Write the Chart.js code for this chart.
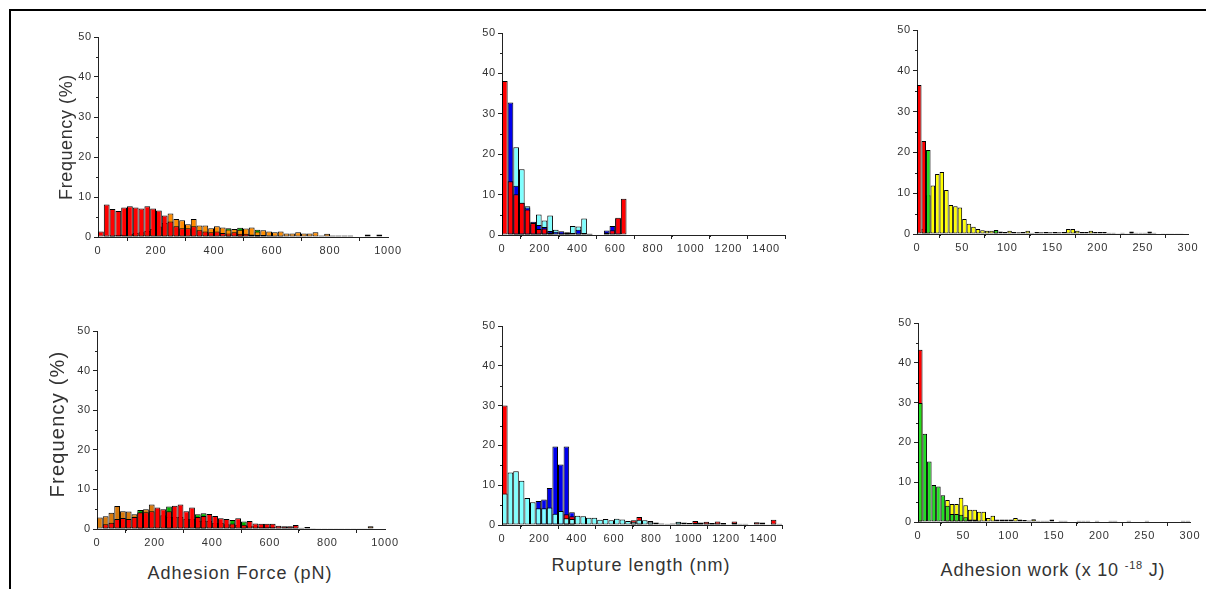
<!DOCTYPE html>
<html><head><meta charset="utf-8">
<script src="https://cdn.jsdelivr.net/npm/chart.js@4.4.1/dist/chart.umd.min.js"></script>
<style>
html,body{margin:0;padding:0;background:#fff;width:1206px;height:589px;overflow:hidden;position:relative;font-family:"Liberation Sans",Arial,sans-serif;}
.frame{position:absolute;left:9px;top:9px;width:1300px;height:700px;border-top:2px solid #000;border-left:2px solid #000;}
canvas{position:absolute;}
.t{position:absolute;color:#333;white-space:nowrap;line-height:1;transform:translate(-50%,-50%);}
.t sup{font-size:11px;vertical-align:0;position:relative;top:-7px;}
</style></head><body>
<div class="frame"></div>
<canvas id="c1"></canvas><canvas id="c2"></canvas><canvas id="c3"></canvas>
<canvas id="c4"></canvas><canvas id="c5"></canvas><canvas id="c6"></canvas>
<div class="t" style="left:66px;top:137px;font-size:18px;letter-spacing:0.6px;transform:translate(-50%,-50%) rotate(-90deg);">Frequency (%)</div>
<div class="t" style="left:57px;top:424px;font-size:20px;letter-spacing:1.2px;transform:translate(-50%,-50%) rotate(-90deg);">Frequency (%)</div>
<div class="t" style="left:240px;top:573px;font-size:18px;letter-spacing:1px;">Adhesion Force (pN)</div>
<div class="t" style="left:641px;top:565px;font-size:18px;letter-spacing:1px;">Rupture length (nm)</div>
<div class="t" style="left:1053px;top:570px;font-size:18px;letter-spacing:0.8px;">Adhesion work (x 10 <sup>-18</sup> J)</div>
<script>
// ---------- tick settings ----------
const freqTicks = [0, 10, 20, 30, 40, 50];
const forceTicks = [0, 200, 400, 600, 800, 1000];
const ruptureTicks = [0, 200, 400, 600, 800, 1000, 1200, 1400];
const workTicks = [0, 50, 100, 150, 200, 250, 300];

// ---------- bin widths ----------
const forceBin = 20;    // pN
const ruptureBin = 30;  // nm
const workBin = 5;      // x 10^-18 J

// ---------- Panel 1 : adhesion force (top) ----------
const force1Red = [1.4,8.1,7.0,6.5,7.4,7.7,7.4,7.1,7.7,7.1, 6.6,5.4,3.9,2.7,2.2,2.2,2.7,1.7,1.4,1.2, 1.4,1.0,0.9,1.2,0.8,0.8,0.6,0.5,0.5,0.4, 0.3,0.3,0.2,0.2,0.2,0,0,0,0,0, 0,0,0,0,0,0,0,0,0,0];
const force1Orange = [0,0.3,0.4,0.5,0.6,0.8,1.0,1.2,1.5,2.0, 2.6,3.5,5.9,4.5,4.2,3.2,4.5,2.9,2.9,2.2, 2.7,2.4,1.9,2.0,1.8,2.1,2.4,1.4,1.7,1.4, 1.2,1.4,0.9,0.9,1.2,0.9,0.9,1.2,0.4,0.8, 0.4,0.4,0.4,0.4,0,0,0,0,0,0];
const force1Green = [0,0,0.4,0,0,0,0,0,0,0, 0,0,0,0,0,0,0,0,0,0, 0,0,2.2,0,2.3,0,0,1.8,0,0, 0,0,0,0,0,0,0,0,0,0, 0,0,0,0,0,0,0.6,0,0.6,0];

// ---------- Panel 2 : rupture length (top) ----------
const rupt1Red = [38.1,13.3,10.1,8.0,6.3,3.0,1.5,1.6,0.6,0, 0.3,0.3,0,0.3,0,0.3,0,0,0.6,1.2, 4.3,9.0,0,0,0,0,0,0,0,0, 0,0,0,0,0,0,0,0,0,0, 0,0,0,0,0,0,0,0,0,0];
const rupt1Blue = [0,32.8,12.2,8.0,6.8,3.3,2.5,2.0,1.0,0.8, 0.9,0.5,0.5,1.3,0.5,0.3,0,0,1.1,2.2, 4.0,0,0,0,0,0,0,0,0,0, 0,0,0,0,0,0,0,0,0,0, 0,0,0,0,0,0,0,0,0,0];
const rupt1Cyan = [0,0,21.7,16.3,7.1,2.5,5.1,3.6,4.8,1.3, 0.6,0.7,2.2,2.1,4.1,0.2,0,0,0,0, 0,0,0,0,0,0,0,0,0,0, 0,0,0,0,0,0,0,0,0,0, 0,0,0,0,0,0,0,0,0,0];

// ---------- Panel 3 : adhesion work (top) ----------
const work1Red = [36.5,22.8,0,0,0,0,0,0,0,0, 0,0,0,0,0,0,0,0,0,0, 0,0,0,0,0,0,0,0,0,0, 0,0,0,0,0,0,0,0,0,0, 0,0,0,0,0,0,0,0,0,0, 0,0,0,0,0,0,0,0,0,0];
const work1Green = [0,0,20.6,0,0,0,0,0,0,0, 0,0,0,0,0,0,0,1.0,0,0, 0,0,0,0,0,0,0,0,0,0, 0,0,0,0,0,0,0,0,0,0, 0,0,0,0,0,0,0,0.6,0,0, 0,0.6,0,0,0,0,0,0,0,0];
const work1Yellow = [0,1.3,9.5,11.9,14.7,15.2,10.8,7.1,6.8,6.5, 3.7,2.5,1.8,1.2,0.9,0.8,0.8,0.9,0.6,0.5, 0.8,0.5,0.4,0.5,0.8,0.3,0.5,0.4,0.5,0.4, 0.5,0.4,0.5,1.2,1.2,0.8,0.5,0.5,0.8,0.5, 0.5,0.5,0.3,0.3,0.2,0.3,0.2,0.3,0.3,0.3, 0.3,0.3,0.3,0,0.2,0.2,0.2,0.2,0.2,0];

// ---------- Panel 4 : adhesion force (bottom) ----------
const force2Red = [0,1.2,1.6,2.5,2.8,2.5,3.0,4.2,4.2,4.5, 5.4,5.0,4.5,5.9,6.2,4.5,5.4,3.0,3.3,3.8, 3.3,2.7,2.5,1.4,2.7,1.1,2.0,1.4,1.3,1.3, 1.3,0.8,0.7,0.7,1.0,0.3,0.5,0.2,0.2,0.2, 0.2,0.2,0.2,0.2,0.2,0.2,0.2,0,0,0];
const force2Orange = [2.9,3.2,4.1,5.8,4.5,4.4,3.7,4.0,5.0,6.2, 5.0,3.5,3.0,3.0,3.0,2.5,2.5,2.0,2.0,2.0, 1.5,1.5,1.2,1.0,1.0,0.8,0.8,0.8,0.6,0.6, 0.5,0.4,0.4,0.4,0.4,0.2,0.2,0.2,0,0, 0,0,0,0,0,0,0,0.7,0,0];
const force2Green = [0,0,0,0,0,0,0,4.8,0,0, 0,0,5.7,0,0,0,0,3.7,4.0,0, 0,0,0,2.3,0,1.9,0,0,0,0, 0,0,0,0,0,0,0,0,0,0, 0,0,0,0,0,0,0,0,0,0];

// ---------- Panel 5 : rupture length (bottom) ----------
const rupt2Cyan = [7.9,13.2,13.5,11.1,6.8,5.7,4.2,4.2,4.4,2.8, 3.5,1.7,1.5,2.3,2.2,1.8,1.8,1.3,1.5,1.2, 1.6,1.4,1.0,0.8,1.3,1.2,0.9,0.6,0.4,0.3, 0.4,0.8,0.6,0.5,0.5,0.3,0.4,0.3,0.4,0.3, 0.2,0.5,0.3,0.3,0.1,0.2,0.2,0.2,0.3,0.3];
const rupt2Red = [30.0,0,0,0,0,0,0,0,0,0, 0,2.7,2.2,0,0,0,0,0,0,0, 0,0,0,1.2,2.0,0,1.0,0,0,0, 0,0.7,0,0,1.0,0.6,0.8,0.5,0.9,0.5, 0,0.9,0,0,0,0.7,0.6,0,1.3,0];
const rupt2Blue = [0,0,0,0,0,0,6.0,6.4,9.3,19.7, 15.2,19.7,3.2,0,0,0,0,0,0,0, 0,0,0,0,0,0,0,0,0,0, 0,0,0,0,0,0,0,0,0,0, 0,0,0,0,0,0,0,0,0,0];

// ---------- Panel 6 : adhesion work (bottom) ----------
const work2Green = [29.9,22.2,15.2,9.3,8.9,6.7,4.1,2.0,2.0,1.8, 1.2,0.6,0.6,0.3,0,0,0,0,0,0, 0,0,0,0,0,0,0,0,0,0, 0,0,0,0,0,0,0,0,0,0, 0,0,0,0,0,0,0,0,0,0, 0,0,0,0,0,0,0,0,0,0];
const work2Yellow = [0,0,0,0,0,0,5.5,4.5,4.5,6.1, 4.2,3.1,3.1,2.6,2.6,1.0,1.6,0.6,0.6,0.6, 0.6,1.0,0.6,0,0.4,0.7,0.3,0.3,0.3,0, 0,0.3,0.3,0,0,0.3,0.3,0.3,0,0.3, 0,0,0.3,0.3,0,0,0.3,0,0,0, 0.3,0,0,0,0,0,0,0,0.3,0.3];
const work2Red = [43.3,0,0,0,0,0,0,0,0,0, 0,0,0,0,0,0,0,0,0,0, 0,0,0,0.5,0,0,0,0,0,0.6, 0,0,0,0,0,0,0,0,0,0, 0,0,0,0,0,0,0,0,0,0, 0,0,0,0,0,0,0,0,0,0];

// ---------- colours ----------
const RED = '#ff0000', ORANGE1 = '#ff8c00', ORANGE2 = '#d97a0c', GREEN1 = '#00b400', GREEN2 = '#22dd22',
      BLUE = '#0000ee', CYAN = '#80ffff', YELLOW = '#ffff00';

const minorTicks = {
  id: 'minorTicks',
  afterDraw(chart, args, opts) {
    const ctx = chart.ctx, xs = chart.scales.x, ys = chart.scales.y;
    ctx.save();
    ctx.strokeStyle = '#222'; ctx.lineWidth = 1;
    ctx.beginPath();
    for (let v = opts.x; v <= xs.max + 1e-9; v += opts.x * 2) {
      const px = Math.round(xs.getPixelForValue(v)) + 0.5;
      ctx.moveTo(px, xs.top); ctx.lineTo(px, xs.top + 2);
    }
    for (let v = opts.y; v <= ys.max + 1e-9; v += opts.y * 2) {
      const py = Math.round(ys.getPixelForValue(v)) + 0.5;
      ctx.moveTo(ys.right, py); ctx.lineTo(ys.right - 2, py);
    }
    ctx.stroke();
    ctx.restore();
  }
};
const spacing = {
  id: 'spacing',
  beforeDraw(chart) { chart.ctx.letterSpacing = '0.8px'; }
};

function toPoints(values, bin) {
  return values.map((v, i) => ({ x: (i + 0.5) * bin, y: v ? v : null }));
}

function makePanel(id, box, bin, xMax, xTicks, xMinor, series) {
  const cv = document.getElementById(id);
  const W = box.R - box.L + 40 + 16, H = box.B - box.T + 10 + 24;
  cv.width = W; cv.height = H;
  cv.style.left = (box.L - 40) + 'px'; cv.style.top = (box.T - 10) + 'px';
  cv.style.width = W + 'px'; cv.style.height = H + 'px';
  const font = { family: '"Liberation Sans", Arial, sans-serif', size: 11 };
  new Chart(cv, {
    type: 'bar',
    data: {
      datasets: series.map(s => ({
        label: s.label,
        data: toPoints(s.values, bin),
        backgroundColor: s.color,
        borderColor: '#000',
        borderWidth: 1,
        borderSkipped: false,
        inflateAmount: 0,
        grouped: false,
        barPercentage: 1,
        categoryPercentage: 1
      }))
    },
    options: {
      responsive: false, devicePixelRatio: 1, animation: false,
      layout: { padding: { left: 0, top: 10, right: 16, bottom: 0 } },
      plugins: { legend: { display: false }, tooltip: { enabled: false }, minorTicks: { x: xMinor, y: 5 } },
      scales: {
        x: {
          type: 'linear', min: 0, max: xMax, offset: false,
          grid: { drawOnChartArea: false, drawTicks: true, tickLength: 4, color: '#222' },
          border: { display: true, color: '#222', width: 1 },
          afterBuildTicks: s => { s.ticks = xTicks.map(v => ({ value: v })); },
          ticks: { color: '#333', font, padding: 3, maxRotation: 0, autoSkip: false, callback: v => String(v) },
          afterFit: s => { s.height = 24; }
        },
        y: {
          type: 'linear', min: 0, max: 50,
          grid: { drawOnChartArea: false, drawTicks: true, tickLength: 4, color: '#222' },
          border: { display: true, color: '#222', width: 1 },
          afterBuildTicks: s => { s.ticks = freqTicks.map(v => ({ value: v })); },
          ticks: { color: '#333', font, padding: 2, callback: v => String(v) },
          afterFit: s => { s.width = 40; }
        }
      }
    },
    plugins: [minorTicks, spacing]
  });
}

makePanel('c1', { L: 98, R: 388, T: 37, B: 237 }, forceBin, 1000, forceTicks, 100, [
  { label: 'red', values: force1Red, color: RED },
  { label: 'orange', values: force1Orange, color: ORANGE1 },
  { label: 'green', values: force1Green, color: GREEN1 }
]);
makePanel('c2', { L: 502, R: 785, T: 33, B: 235 }, ruptureBin, 1500, ruptureTicks, 100, [
  { label: 'red', values: rupt1Red, color: RED },
  { label: 'blue', values: rupt1Blue, color: BLUE },
  { label: 'cyan', values: rupt1Cyan, color: CYAN }
]);
makePanel('c3', { L: 917, R: 1188, T: 30, B: 234 }, workBin, 300, workTicks, 25, [
  { label: 'red', values: work1Red, color: RED },
  { label: 'green', values: work1Green, color: GREEN2 },
  { label: 'yellow', values: work1Yellow, color: YELLOW }
]);
makePanel('c4', { L: 97, R: 385, T: 331, B: 529 }, forceBin, 1000, forceTicks, 100, [
  { label: 'red', values: force2Red, color: RED },
  { label: 'orange', values: force2Orange, color: ORANGE2 },
  { label: 'green', values: force2Green, color: GREEN1 }
]);
makePanel('c5', { L: 502, R: 782, T: 326, B: 525 }, ruptureBin, 1500, ruptureTicks, 100, [
  { label: 'cyan', values: rupt2Cyan, color: CYAN },
  { label: 'red', values: rupt2Red, color: RED },
  { label: 'blue', values: rupt2Blue, color: BLUE }
]);
makePanel('c6', { L: 918, R: 1190, T: 323, B: 522 }, workBin, 300, workTicks, 25, [
  { label: 'green', values: work2Green, color: GREEN2 },
  { label: 'yellow', values: work2Yellow, color: YELLOW },
  { label: 'red', values: work2Red, color: RED }
]);
</script>
</body></html>
